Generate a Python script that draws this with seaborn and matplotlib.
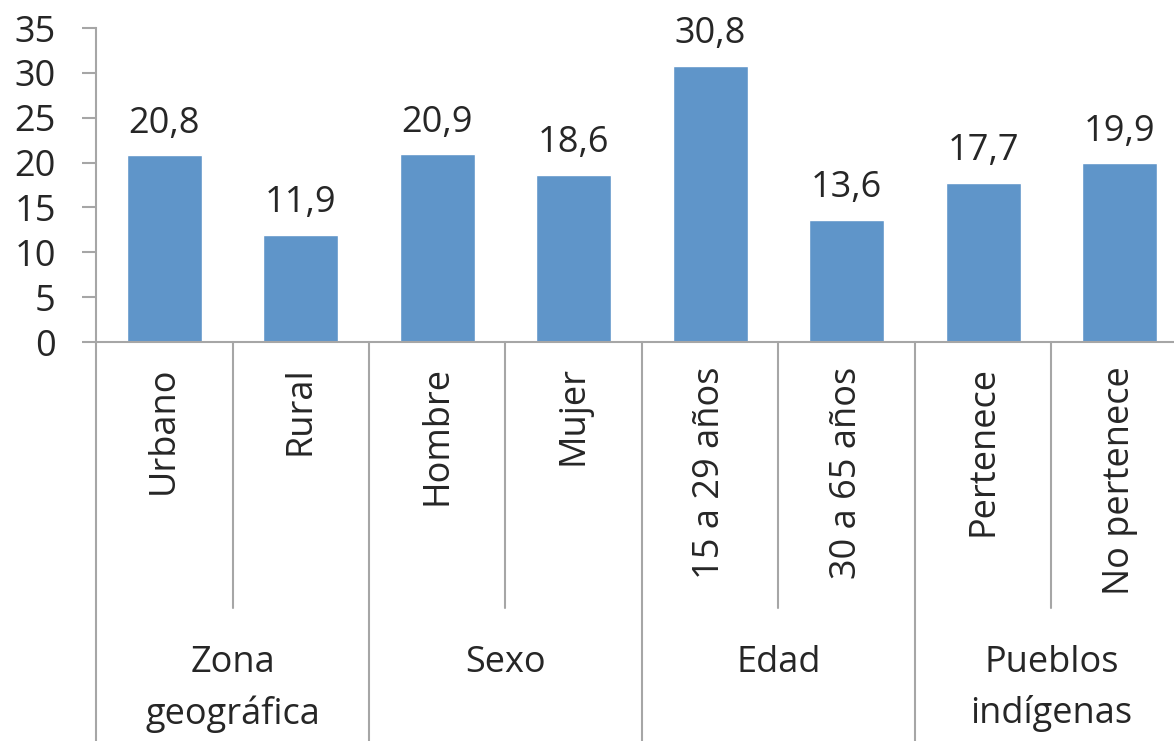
import matplotlib
matplotlib.use("Agg")
import matplotlib.pyplot as plt
import seaborn as sns
import pandas as pd

# datos del grafico
categorias = ["Urbano", "Rural", "Hombre", "Mujer",
              "15 a 29 años", "30 a 65 años", "Pertenece", "No pertenece"]
valores = [20.8, 11.9, 20.9, 18.6, 30.8, 13.6, 17.7, 19.9]
grupos = ["Zona\ngeográfica", "Sexo", "Edad", "Pueblos\nindígenas"]
tam_grupo = [2, 2, 2, 2]

sns.set_style("white")
plt.rcParams['font.family'] = ['Open Sans', 'DejaVu Sans']

gris = "#A6A6A6"
azul = "#5F95C9"
fs = 26

df = pd.DataFrame({"cat": categorias, "val": valores})

fig = plt.figure(figsize=(11.74, 7.41), dpi=100)
ax = fig.add_axes([96 / 1174, 399 / 741, 1092 / 1174, 314 / 741])

sns.barplot(data=df, x="cat", y="val", color=azul, width=0.55,
            saturation=1, ax=ax)

ax.set_ylim(0, 35)
ax.set_xlim(-0.5, len(categorias) - 0.5)
ax.set_yticks(range(0, 36, 5))
ax.set_xlabel("")
ax.set_ylabel("")
ax.set_xticks([])

for s in ["top", "right"]:
    ax.spines[s].set_visible(False)
for s in ["left", "bottom"]:
    ax.spines[s].set_color(gris)
    ax.spines[s].set_linewidth(1.5)
ax.tick_params(axis="y", left=True, length=10, width=1.5, color=gris,
               labelsize=fs, pad=19)

# etiquetas de valor
etiquetas = [f"{v:.1f}".replace(".", ",") for v in valores]
ax.bar_label(ax.containers[0], labels=etiquetas, fontsize=fs, padding=10)

tr = ax.get_xaxis_transform()

# etiquetas de categoria (rotadas)
for i, c in enumerate(categorias):
    ax.text(i, -0.078, c, rotation=90, ha="center", va="top",
            fontsize=fs, transform=tr, clip_on=False)

# lineas separadoras y etiquetas de grupo
inicio = 0
ax.plot([-0.5, -0.5], [0, -1.28], color=gris, lw=1.5, transform=tr,
        clip_on=False)
for g, n in zip(grupos, tam_grupo):
    for k in range(1, n):
        x = inicio + k - 0.5
        ax.plot([x, x], [0, -0.847], color=gris, lw=1.5, transform=tr,
                clip_on=False)
    fin = inicio + n - 0.5
    ax.plot([fin, fin], [0, -1.28], color=gris, lw=1.5, transform=tr,
            clip_on=False)
    ax.text(inicio + (n - 1) / 2, -0.965, g, ha="center", va="top",
            fontsize=fs, linespacing=1.5, transform=tr, clip_on=False)
    inicio += n

fig.savefig("out.png", dpi=100)
